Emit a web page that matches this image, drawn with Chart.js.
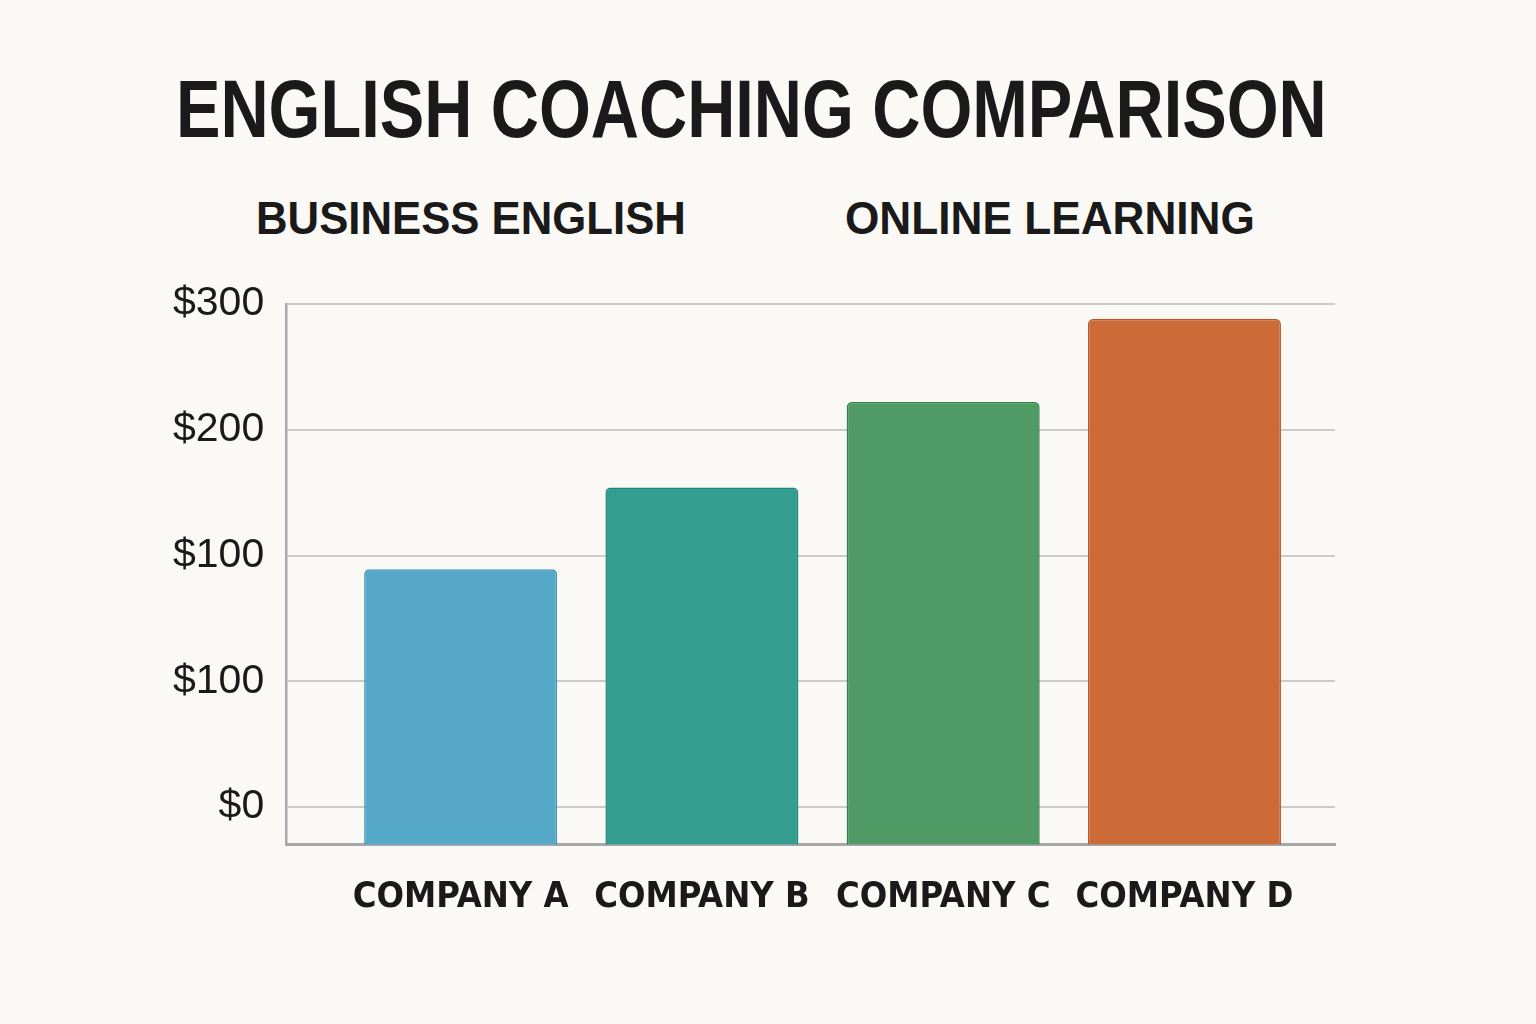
<!DOCTYPE html>
<html>
<head>
<meta charset="utf-8">
<script src="https://cdn.jsdelivr.net/npm/chart.js@4.4.1/dist/chart.umd.min.js"></script>
<style>
  html, body { margin: 0; padding: 0; background: #FBF9F5; }
  body { width: 1536px; height: 1024px; position: relative; overflow: hidden; }
  .t { position: absolute; color: #1A1A1A; font-family: "Liberation Sans", Arial, sans-serif; font-weight: bold; white-space: nowrap; line-height: 1; transform-origin: 0 0; }
  #title { left: 176px; top: 68px; font-size: 82px; transform: scaleX(0.813); }
  #sub1 { left: 256px; top: 194px; font-size: 47px; transform: scaleX(0.93); }
  #sub2 { left: 845px; top: 194px; font-size: 47px; transform: scaleX(0.94); }
  #wrap { position: absolute; left: 0; top: 0; width: 1536px; height: 1024px; }
</style>
</head>
<body>
<div class="t" id="title">ENGLISH COACHING COMPARISON</div>
<div class="t" id="sub1">BUSINESS ENGLISH</div>
<div class="t" id="sub2">ONLINE LEARNING</div>
<div id="wrap"><canvas id="c" width="1536" height="1024"></canvas></div>
<script>
const categories = ["COMPANY A", "COMPANY B", "COMPANY C", "COMPANY D"];
const prices = [189, 254, 322, 388];
const yTickValues = [0, 100, 200, 300, 400];
const yTickLabels = ["$0", "$100", "$100", "$200", "$300"];
const barColors = ["#56A8C8", "#339E8F", "#4F9A65", "#CC6A38"];
const barBorders = ["#3C94BA", "#23887A", "#2F8245", "#BE5423"];

const points = prices.map((v, i) => ({ x: i, y: v }));

new Chart(document.getElementById("c"), {
  type: "bar",
  data: {
    datasets: [{
      data: points,
      base: -30,
      backgroundColor: barColors,
      borderColor: barBorders,
      borderWidth: 1.5,
      borderRadius: 5,
      borderSkipped: "start",
      categoryPercentage: 0.8,
      barPercentage: 1.0
    }]
  },
  options: {
    responsive: false,
    animation: false,
    devicePixelRatio: 1,
    layout: { padding: { top: 304, left: 151, right: 201, bottom: 74 } },
    plugins: { legend: { display: false }, tooltip: { enabled: false }, title: { display: false } },
    scales: {
      x: {
        type: "linear",
        offset: false,
        min: -0.723,
        max: 3.624,
        afterBuildTicks: (s) => { s.ticks = categories.map((c, i) => ({ value: i })); },
        grid: { display: false, drawTicks: false },
        border: { display: true, color: "#A8A8A8", width: 3 },
        ticks: {
          padding: 31,
          color: "#1A1A1A",
          font: { family: "'DejaVu Sans Condensed', 'DejaVu Sans', sans-serif", size: 36, weight: "bold" },
          callback: (v, i) => categories[i],
          maxRotation: 0,
          autoSkip: false
        }
      },
      y: {
        type: "linear",
        min: -30,
        max: 400,
        afterBuildTicks: (s) => { s.ticks = yTickValues.map(v => ({ value: v })); },
        grid: { color: "#CBCBCB", lineWidth: 2, drawTicks: false },
        border: { display: true, color: "#A8A8A8", width: 2.5 },
        ticks: {
          padding: 22,
          color: "#1A1A1A",
          font: { family: "'Liberation Sans', Arial, sans-serif", size: 41 },
          callback: (v, i) => yTickLabels[i],
          autoSkip: false
        }
      }
    }
  }
});
</script>
</body>
</html>
